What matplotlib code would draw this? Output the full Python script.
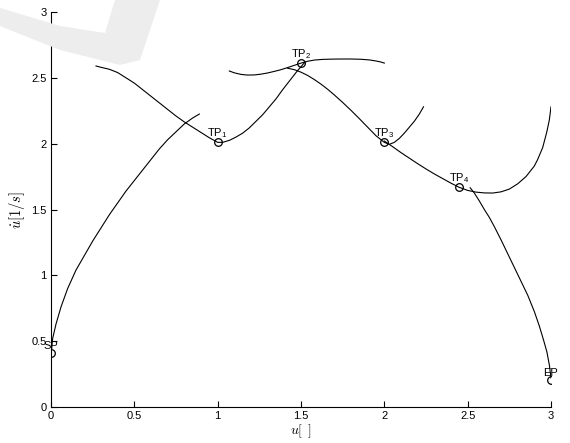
import matplotlib
matplotlib.use("Agg")
import matplotlib.pyplot as plt
from matplotlib.patches import Polygon
import numpy as np

# waypoints
point_labels = ["SP", r"TP$_\mathregular{1}$", r"TP$_\mathregular{2}$",
                r"TP$_\mathregular{3}$", r"TP$_\mathregular{4}$", "EP"]
point_u = [0.0, 1.0, 1.5, 2.0, 2.45, 3.0]
point_du = [0.41, 2.01, 2.61, 2.01, 1.67, 0.205]

# trajectory pieces (u, du/dt)
curve_a_u = [0.0, 0.01, 0.03, 0.06, 0.10, 0.15, 0.20, 0.25, 0.30, 0.35, 0.40, 0.45, 0.50,
             0.55, 0.60, 0.65, 0.70, 0.75, 0.80, 0.85, 0.89]
curve_a_du = [0.42, 0.52, 0.63, 0.76, 0.90, 1.04, 1.15, 1.26, 1.36, 1.46, 1.55, 1.64, 1.72,
              1.80, 1.88, 1.96, 2.03, 2.09, 2.15, 2.195, 2.225]

curve_b_u = [0.27, 0.30, 0.35, 0.40, 0.45, 0.50, 0.55, 0.60, 0.65, 0.70, 0.75, 0.80, 0.85,
             0.90, 0.95, 1.00, 1.03, 1.07, 1.11, 1.15, 1.19, 1.23, 1.27, 1.31, 1.35, 1.39,
             1.43, 1.47, 1.51, 1.525]
curve_b_du = [2.59, 2.58, 2.565, 2.54, 2.50, 2.46, 2.41, 2.36, 2.31, 2.26, 2.21, 2.165, 2.125,
              2.085, 2.045, 2.01, 2.01, 2.025, 2.05, 2.08, 2.12, 2.17, 2.22, 2.28, 2.34, 2.41,
              2.475, 2.54, 2.60, 2.62]

curve_g_u = [1.07, 1.10, 1.14, 1.18, 1.22, 1.26, 1.30, 1.34, 1.38, 1.42, 1.46, 1.50, 1.54,
             1.58, 1.63, 1.68, 1.74, 1.80, 1.86, 1.91, 1.95, 1.98, 2.00]
curve_g_du = [2.552, 2.538, 2.526, 2.521, 2.522, 2.528, 2.537, 2.549, 2.562, 2.578, 2.595,
              2.612, 2.626, 2.635, 2.640, 2.642, 2.643, 2.643, 2.641, 2.636, 2.628, 2.62, 2.612]

curve_c_u = [1.42, 1.46, 1.50, 1.54, 1.58, 1.62, 1.66, 1.70, 1.75, 1.80, 1.85, 1.90, 1.95,
             2.00, 2.03, 2.06, 2.09, 2.12, 2.15, 2.18, 2.21, 2.235]
curve_c_du = [2.573, 2.562, 2.543, 2.518, 2.487, 2.452, 2.413, 2.37, 2.313, 2.253, 2.19, 2.125,
              2.06, 2.01, 1.995, 2.01, 2.04, 2.08, 2.125, 2.17, 2.225, 2.28]

curve_e_u = [2.00, 2.05, 2.10, 2.15, 2.20, 2.25, 2.30, 2.35, 2.40, 2.45, 2.50, 2.55, 2.60,
             2.65, 2.70, 2.75, 2.80, 2.85, 2.90, 2.92, 2.95, 2.975, 2.99, 3.0]
curve_e_du = [2.02, 1.977, 1.932, 1.89, 1.848, 1.808, 1.77, 1.735, 1.70, 1.668, 1.645, 1.632,
              1.626, 1.625, 1.634, 1.655, 1.695, 1.75, 1.83, 1.88, 1.97, 2.09, 2.18, 2.28]

curve_f_u = [2.515, 2.54, 2.57, 2.60, 2.63, 2.66, 2.70, 2.74, 2.78, 2.82, 2.86, 2.90, 2.93,
             2.955, 2.975, 2.99, 3.0]
curve_f_du = [1.665, 1.625, 1.565, 1.50, 1.44, 1.37, 1.27, 1.165, 1.06, 0.955, 0.85, 0.725,
              0.615, 0.51, 0.42, 0.32, 0.22]

plt.rcParams["font.family"] = ["Liberation Sans", "DejaVu Sans"]
plt.rcParams["mathtext.fontset"] = "cm"

W, H = 570, 443
fig = plt.figure(figsize=(W / 100, H / 100), dpi=100)

# faint swoosh in the top-left corner
swoosh_px = [(0, 8), (60, 26), (105, 33), (115, 0), (160, 0), (140, 60), (120, 65),
             (60, 50), (0, 26)]
fig.patches.append(Polygon([(x / W, 1 - y / H) for x, y in swoosh_px], closed=True,
                           transform=fig.transFigure, facecolor="#ededed",
                           edgecolor="none", zorder=0))

ax = fig.add_axes([51 / W, 36 / H, 500 / W, 395 / H])
ax.patch.set_alpha(0)

for cu, cdu in [(curve_a_u, curve_a_du), (curve_b_u, curve_b_du), (curve_g_u, curve_g_du),
                (curve_c_u, curve_c_du), (curve_e_u, curve_e_du), (curve_f_u, curve_f_du)]:
    ax.plot(cu, cdu, color="black", lw=0.8)

ax.plot(point_u, point_du, linestyle="none", marker="o", markersize=5.5,
        markerfacecolor="none", markeredgecolor="black", markeredgewidth=0.9)

for label, u, du in zip(point_labels, point_u, point_du):
    ax.annotate(label, (u, du), xytext=(0, 1.5), textcoords="offset points",
                ha="center", va="bottom", fontsize=8)

ax.set_xlim(0, 3)
ax.set_ylim(0, 3)
ax.set_xticks(np.arange(0, 3.01, 0.5))
ax.set_yticks(np.arange(0, 3.01, 0.5))
ax.set_xticklabels(["0", "0.5", "1", "1.5", "2", "2.5", "3"])
ax.set_yticklabels(["0", "0.5", "1", "1.5", "2", "2.5", "3"])
ax.spines["top"].set_visible(False)
ax.spines["right"].set_visible(False)
for s in ("left", "bottom"):
    ax.spines[s].set_linewidth(0.8)
ax.tick_params(direction="in", length=4, width=0.8, labelsize=8, pad=3)

ax.set_xlabel(r"$u[\ \,]$", fontsize=10, labelpad=1)
ax.set_ylabel(r"$\dot{u}[1/s]$", fontsize=10.5, labelpad=3)

fig.savefig("out.png", dpi=100)
